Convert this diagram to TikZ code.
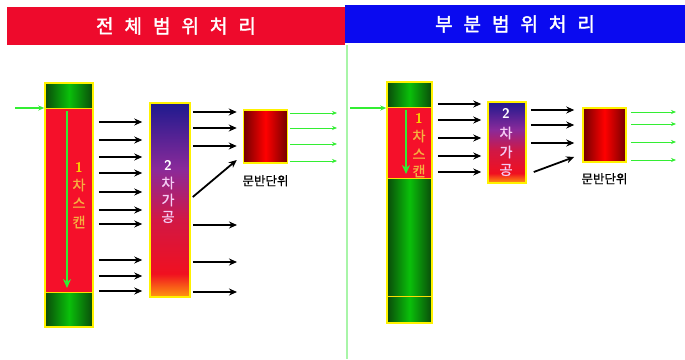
\documentclass[tikz,border=0pt]{standalone}
\usepackage{fontspec}
\usetikzlibrary{arrows.meta}
\newfontfamily\kr{Noto Sans CJK KR}
\newfontfamily\krb[FakeBold=2]{Noto Sans CJK KR}
\newfontfamily\krm[FakeBold=1]{Noto Sans CJK KR}
\newcommand\tsp{\hspace{11pt}}
\definecolor{titlered}{HTML}{EE0A2C}
\definecolor{titleblue}{HTML}{0A0AF0}
\definecolor{darkg}{HTML}{0A4A0A}
\definecolor{brightg}{HTML}{0AC00A}
\definecolor{colred}{HTML}{F5102A}
\definecolor{arrg}{HTML}{33EE33}
\definecolor{lineg}{HTML}{A8F5A8}
\definecolor{boxtop}{HTML}{1E1A8E}
\definecolor{boxmid}{HTML}{8A2A9A}
\definecolor{boxlow}{HTML}{F01020}
\definecolor{boxbot}{HTML}{FF9A10}
\definecolor{lav}{HTML}{F5CCF5}
\definecolor{scantxt}{HTML}{F5B040}
\definecolor{onetxt}{HTML}{F8D000}
\pgfdeclareverticalshading{procshade}{100bp}{color(0bp)=(boxbot); color(25bp)=(boxbot); color(31bp)=(boxlow); color(45bp)=(boxlow!70!boxmid); color(58bp)=(boxmid); color(75bp)=(boxtop); color(100bp)=(boxtop)}
\tikzset{
  greenpart/.style={left color=darkg, right color=darkg, middle color=brightg, draw=none},
  redbox/.style={left color=red!45!black, right color=red!45!black, middle color=red, draw=yellow, line width=1.5pt},
  procbox/.style={shading=procshade, draw=yellow, line width=1.5pt},
  blk/.style={line width=1.8pt, -{Stealth[length=8pt,width=7pt]}},
  garr/.style={arrg, line width=0.7pt, -{Stealth[length=5pt,width=4pt]}},
  gin/.style={arrg, line width=1.6pt, -{Stealth[length=6pt,width=5pt]}},
  gdown/.style={arrg, line width=2.6pt, -{Stealth[length=9pt,width=8pt]}},
  ktxt/.style={font=\krm\fontsize{12.5pt}{12.5pt}\selectfont, inner sep=0pt},
  num/.style={font=\sffamily\bfseries\fontsize{14pt}{14pt}\selectfont, inner sep=0pt},
  chr/.style={font=\krm\fontsize{14pt}{14pt}\selectfont, inner sep=0pt},
  ttl/.style={font=\krb\fontsize{19pt}{19pt}\selectfont, text=white, inner sep=0pt},
}
\begin{document}
\begin{tikzpicture}[x=1pt,y=-1pt]
\useasboundingbox (0,0) rectangle (685,359);
\fill[white] (0,0) rectangle (685,359);
% title bars
\fill[titlered] (7,7) rectangle (345,45);
\fill[titleblue] (345,5) rectangle (685,43);
\node[ttl] (t1) at (176,26) {전\tsp 체\tsp 범\tsp 위\tsp 처\tsp 리};
\node[ttl] (t2) at (515,24) {부\tsp 분\tsp 범\tsp 위\tsp 처\tsp 리};
\draw[lineg, line width=1.5pt] (347,45) -- (347,359);

% ===== left panel =====
\shade[greenpart] (45,83) rectangle (93,108);
\fill[colred] (45,108) rectangle (93,292);
\shade[greenpart] (45,292) rectangle (93,327);
\draw[yellow!80!orange, line width=0.6pt] (45,108) -- (93,108) (45,292) -- (93,292);
\node[draw=yellow, line width=1.5pt, minimum width=48pt, minimum height=244pt, inner sep=0pt] (colA) at (69,205) {};
\coordinate (inA) at (15,108);
\draw[gin] (inA) -- (colA.west |- inA);
\coordinate (dA1) at (67,111);
\coordinate (dA2) at (67,288);
\draw[gdown] (dA1) -- (dA2);
\node[num, text=onetxt] (sA1) at (79,167) {1};
\node[chr, text=scantxt] (sA2) at (79,185) {차};
\node[chr, text=scantxt] (sA3) at (79,203) {스};
\node[chr, text=scantxt] (sA4) at (79,222) {캔};

\node[procbox, minimum width=40pt, minimum height=194pt, inner sep=0pt] (pA) at (170,200) {};
\node[num, text=white] (pA1) at (168,165) {2};
\node[chr, text=lav] (pA2) at (168,183) {차};
\node[chr, text=lav] (pA3) at (168,200) {가};
\node[chr, text=lav] (pA4) at (168,217) {공};

\foreach \y in {122,140,157,173,192,210,224,260,276,291}
  \draw[blk] ([xshift=5pt]colA.east |- 0,\y) -- ([xshift=-7pt]pA.west |- 0,\y);

\node[redbox, minimum width=44pt, minimum height=53pt, inner sep=0pt] (uA) at (265.5,136.5) {};
\node[ktxt] (lA) at ([yshift=-17pt]uA.south) {문반단위};
\foreach \y in {112,128,146}
  \draw[blk] ([xshift=2pt]pA.east |- 0,\y) -- ([xshift=-6pt]uA.west |- 0,\y);
\draw[blk] ([xshift=2pt]pA.east |- 0,197) -- ([xshift=-6pt]uA.west |- 0,160);
\foreach \y in {225,262,292}
  \draw[blk] ([xshift=2pt]pA.east |- 0,\y) -- (237,\y);
\foreach \y in {113,128,144,161}
  \draw[garr] ([xshift=2pt]uA.east |- 0,\y) -- (337,\y);

% ===== right panel =====
\shade[greenpart] (387,82) rectangle (432,323);
\fill[colred] (387,107) rectangle (432,178);
\draw[yellow!80!orange, line width=0.8pt] (387,107) rectangle (432,178);
\draw[yellow!80!orange, line width=0.6pt] (387,296) -- (432,296);
\node[draw=yellow, line width=1.5pt, minimum width=45pt, minimum height=241pt, inner sep=0pt] (colB) at (409.5,202.5) {};
\coordinate (inB) at (350,108);
\draw[gin] (inB) -- (colB.west |- inB);
\coordinate (dB1) at (406,110);
\coordinate (dB2) at (406,174);
\draw[gdown] (dB1) -- (dB2);
\node[num, text=onetxt] (sB1) at (419,118) {1};
\node[chr, text=scantxt] (sB2) at (419,136) {차};
\node[chr, text=scantxt] (sB3) at (419,154) {스};
\node[chr, text=scantxt] (sB4) at (419,171) {캔};

\node[procbox, minimum width=38pt, minimum height=81pt, inner sep=0pt] (pB) at (507,142.5) {};
\node[num, text=white] (pB1) at (506,113) {2};
\node[chr, text=lav] (pB2) at (506,133) {차};
\node[chr, text=lav] (pB3) at (506,152) {가};
\node[chr, text=lav] (pB4) at (506,170) {공};

\foreach \y in {104,120,138,156,172}
  \draw[blk] ([xshift=5pt]colB.east |- 0,\y) -- ([xshift=-6pt]pB.west |- 0,\y);

\node[redbox, minimum width=43pt, minimum height=54pt, inner sep=0pt] (uB) at (604.5,135) {};
\node[ktxt] (lB) at ([yshift=-16pt]uB.south) {문반단위};
\foreach \y in {110,125,143}
  \draw[blk] ([xshift=4pt]pB.east |- 0,\y) -- ([xshift=-8pt]uB.west |- 0,\y);
\draw[blk] ([xshift=7pt]pB.east |- 0,172) -- ([xshift=-8pt]uB.west |- 0,157);
\foreach \y in {112,124,142,160}
  \draw[garr] ([xshift=4pt]uB.east |- 0,\y) -- (676,\y);
\end{tikzpicture}
\end{document}
